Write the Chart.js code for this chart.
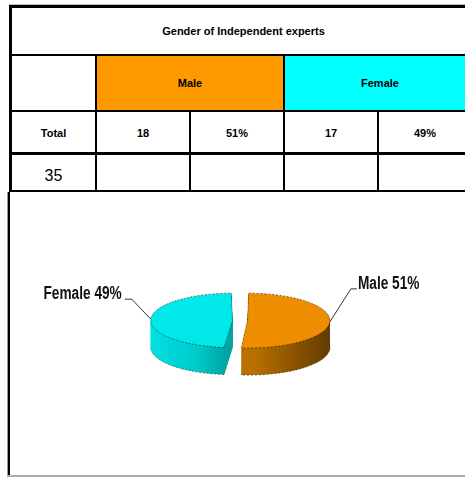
<!DOCTYPE html>
<html><head><meta charset="utf-8">
<script src="https://cdn.jsdelivr.net/npm/chart.js@4"></script>
<style>
html,body{margin:0;padding:0;background:#fff;width:465px;height:477px;overflow:hidden;position:relative;}
.c{position:absolute;display:flex;align-items:center;justify-content:center;font-family:"Liberation Sans",Arial,sans-serif;font-weight:bold;font-size:11px;color:#000;}
#cv{position:absolute;left:10px;top:193px;}
</style></head><body>
<div id="tbl"></div>
<canvas id="cv" width="455" height="282"></canvas>
<script>
// ---- data ----
const tableTitle = 'Gender of Independent experts';
const categories = ['Male', 'Female'];
const counts = [18, 17];
const percents = ['51%', '49%'];
const totalLabel = 'Total';
const totalCount = 35;

// ---- styles ----
const headerColors = ['#FF9900', '#00FFFF'];
const topColors = ['#EE8D00', '#00E8E8'];
const sideStops = [
  [[0, '#BA7000'], [1, '#5A3600']],
  [[0, '#00E4E4'], [0.65, '#00CCCC'], [1, '#00A6A6']]
];
const sideRanges = [[235, 320], [140, 222]];

// ---- table ----
const tbl = document.getElementById('tbl');
function box(x, y, w, h, css, text) {
  const d = document.createElement('div');
  d.style.cssText = `position:absolute;left:${x}px;top:${y}px;width:${w}px;height:${h}px;` + (css || '');
  if (text !== undefined) { d.className = 'c'; d.textContent = String(text); }
  tbl.appendChild(d);
  return d;
}
box(97, 56, 186, 54, 'background:' + headerColors[0]);
box(285, 56, 190, 54, 'background:' + headerColors[1]);
box(12, 8, 463, 46, '', tableTitle);
box(97, 56, 186, 54, '', categories[0]);
box(285, 56, 190, 54, '', categories[1]);
box(12, 113, 83, 40, '', totalLabel);
box(97, 113, 92, 40, '', counts[0]);
box(191, 113, 92, 40, '', percents[0]);
box(285, 113, 92, 40, '', counts[1]);
box(379, 113, 92, 40, '', percents[1]);
box(12, 158, 83, 35, 'font-weight:normal;font-size:16px;', totalCount);
const B = 'background:#000';
box(9, 4, 466, 1, 'background:#bbb');
box(9, 5, 466, 3, B);
box(9, 5, 3, 187, B);
box(9, 54, 466, 2, B);
box(9, 110, 466, 2, B);
box(9, 152, 466, 3, B);
box(9, 190, 466, 2, B);
box(95, 54, 2, 138, B);
box(283, 56, 2, 136, B);
box(189, 110, 2, 82, B);
box(377, 110, 2, 82, B);
// chart frame
box(7, 192, 1, 284, 'background:#999');
box(8, 192, 2, 284, B);
box(7, 475, 458, 2, 'background:#aaa');

// ---- 3D pie ----
const K = 0.333, DEPTH = 27;
const pie3d = {
  id: 'pie3d',
  beforeDatasetsDraw(chart) {
    const ctx = chart.ctx;
    const meta = chart.getDatasetMeta(0);
    const cy = meta.data[0].y;
    meta.data.forEach((arc, i) => {
      const g = ctx.createLinearGradient(sideRanges[i][0], 0, sideRanges[i][1], 0);
      sideStops[i].forEach(s => g.addColorStop(s[0], s[1]));
      const saved = arc.options;
      for (let d = DEPTH; d >= 1; d--) {
        arc.options = Object.assign({}, saved, {backgroundColor: g, borderWidth: d === DEPTH ? 1 : 0});
        ctx.save();
        ctx.translate(0, cy * (1 - K) + d);
        ctx.scale(1, K);
        arc.draw(ctx);
        ctx.restore();
      }
      arc.options = saved;
    });
    ctx.save();
    ctx.translate(0, cy * (1 - K));
    ctx.scale(1, K);
  },
  afterDatasetsDraw(chart) {
    chart.ctx.restore();
  }
};

const labelPlug = {
  id: 'labels3d',
  afterDraw(chart) {
    const ctx = chart.ctx;
    const meta = chart.getDatasetMeta(0);
    const total = counts.reduce((a, b) => a + b, 0);
    const SX = 0.76;
    meta.data.forEach((arc, i) => {
      const half = (arc.startAngle + arc.endAngle) / 2;
      const t = (arc.options.offset || 0) / 4;
      const circ = arc.endAngle - arc.startAngle;
      const fix = 1 - Math.sin(Math.min(Math.PI, circ));
      const r = arc.outerRadius + t * fix + t;
      const ax = arc.x + Math.cos(half) * r;
      const ay = arc.y + Math.sin(half) * r * K;
      const right = Math.cos(half) > 0;
      const ex = right ? ax + 21 : ax - 19;
      const ey = right ? ay - 33 : ay - 20;
      const tx = right ? ex + 6 : ex - 7;
      ctx.save();
      ctx.strokeStyle = '#333';
      ctx.lineWidth = 1;
      ctx.beginPath();
      ctx.moveTo(ax, ay); ctx.lineTo(ex, ey); ctx.lineTo(tx, ey);
      ctx.stroke();
      ctx.fillStyle = '#111';
      ctx.font = 'bold 18px "Liberation Sans", Arial, sans-serif';
      ctx.textBaseline = 'alphabetic';
      ctx.textAlign = right ? 'left' : 'right';
      const pct = Math.round(counts[i] / total * 100);
      const px = right ? tx + 1 : tx - 3;
      ctx.translate(px, ey);
      ctx.scale(SX, 1);
      ctx.fillText(chart.data.labels[i] + ' ' + pct + '%', 0, 0);
      ctx.restore();
    });
  }
};

new Chart(document.getElementById('cv'), {
  type: 'pie',
  data: {
    labels: categories,
    datasets: [{
      data: counts,
      backgroundColor: topColors,
      borderColor: 'rgba(0,0,0,0.8)',
      borderWidth: 1,
      borderDash: [2, 2],
      offset: 30,
      radius: 75
    }]
  },
  options: {
    responsive: false,
    animation: false,
    devicePixelRatio: 1,
    layout: {padding: {left: 5, bottom: 27}},
    plugins: {legend: {display: false}, tooltip: {enabled: false}}
  },
  plugins: [pie3d, labelPlug]
});
</script>
</body></html>
